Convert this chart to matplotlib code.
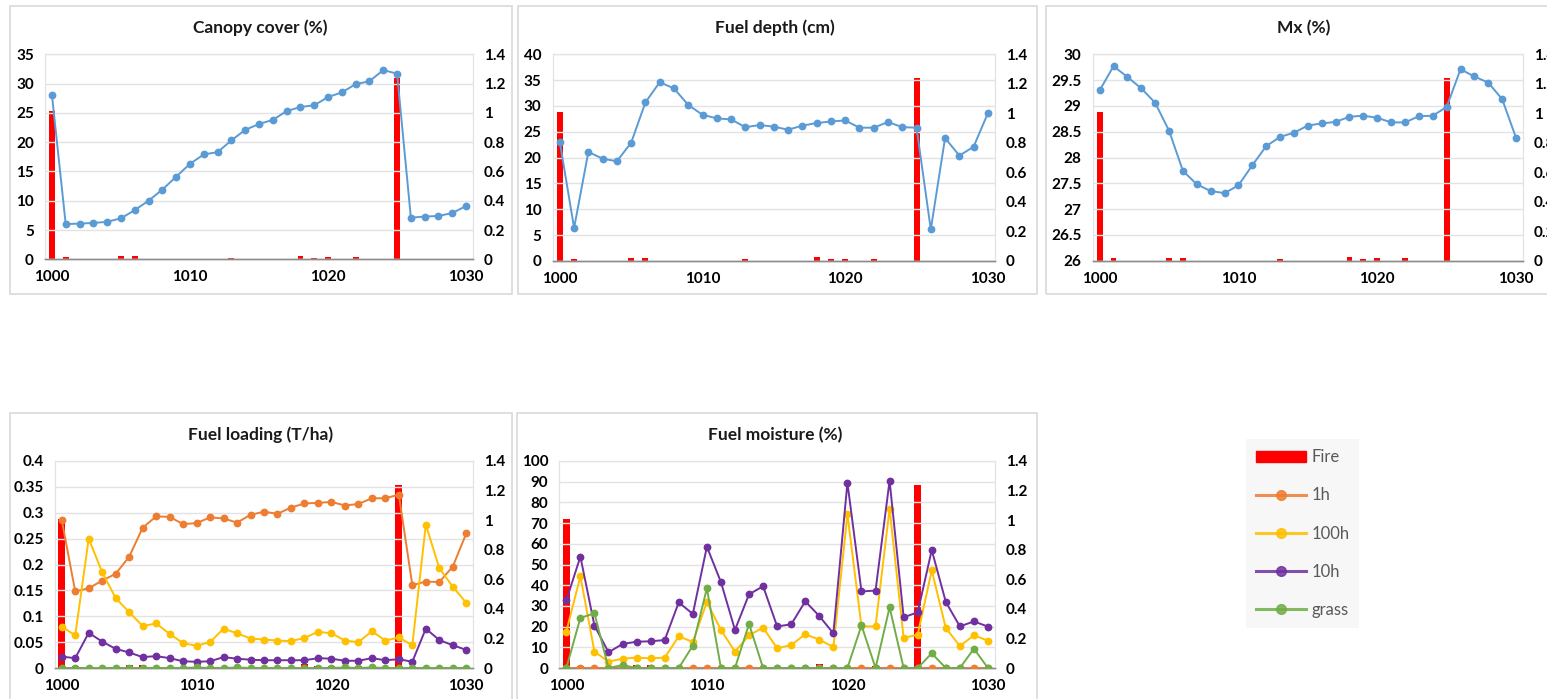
import numpy as np
import matplotlib
matplotlib.use("Agg")
from matplotlib import pyplot as plt
from matplotlib.patches import Rectangle, Patch
from matplotlib.lines import Line2D
from matplotlib.ticker import FuncFormatter, MultipleLocator

plt.rcParams["font.family"] = ["Lato", "DejaVu Sans"]

years = np.arange(1000, 1031)

fire = [1.01, 0.016, 0, 0, 0, 0.02, 0.02, 0, 0, 0, 0, 0, 0, 0.012, 0, 0, 0, 0,
        0.025, 0.012, 0.016, 0, 0.016, 0, 0, 1.24, 0, 0, 0, 0, 0]

canopy = [28.1, 6.0, 6.1, 6.2, 6.4, 7.0, 8.4, 10.0, 11.9, 14.1, 16.3, 17.9, 18.3,
          20.3, 22.1, 23.1, 23.8, 25.3, 26.0, 26.3, 27.7, 28.5, 29.9, 30.4, 32.3,
          31.7, 7.1, 7.3, 7.4, 7.9, 9.1]

depth = [23.0, 6.4, 21.1, 19.8, 19.3, 22.9, 30.7, 34.6, 33.4, 30.2, 28.3, 27.6,
         27.4, 25.9, 26.3, 26.0, 25.4, 26.2, 26.7, 27.0, 27.2, 25.8, 25.8, 26.9,
         25.9, 25.8, 6.1, 23.8, 20.4, 22.1, 28.6]

mx = [29.30, 29.77, 29.56, 29.34, 29.06, 28.52, 27.74, 27.48, 27.35, 27.31, 27.46,
      27.85, 28.22, 28.40, 28.48, 28.62, 28.66, 28.69, 28.79, 28.81, 28.77, 28.68,
      28.68, 28.80, 28.81, 28.98, 29.71, 29.57, 29.45, 29.13, 28.38]

load_1h = [0.286, 0.148, 0.154, 0.169, 0.182, 0.215, 0.271, 0.293, 0.292, 0.278,
           0.280, 0.291, 0.289, 0.281, 0.296, 0.302, 0.298, 0.310, 0.318, 0.319,
           0.321, 0.314, 0.317, 0.328, 0.328, 0.335, 0.160, 0.167, 0.166, 0.196, 0.260]
load_100h = [0.080, 0.063, 0.250, 0.185, 0.135, 0.108, 0.081, 0.086, 0.066, 0.048,
             0.043, 0.050, 0.076, 0.067, 0.057, 0.055, 0.053, 0.052, 0.058, 0.070,
             0.067, 0.053, 0.050, 0.071, 0.053, 0.059, 0.044, 0.277, 0.193, 0.157, 0.126]
load_10h = [0.022, 0.019, 0.068, 0.051, 0.037, 0.030, 0.021, 0.023, 0.019, 0.013,
            0.012, 0.013, 0.021, 0.018, 0.016, 0.015, 0.015, 0.015, 0.015, 0.019,
            0.018, 0.014, 0.014, 0.019, 0.015, 0.017, 0.012, 0.076, 0.054, 0.044, 0.035]
load_grass = [0, 0, 0, 0, 0, 0, 0, 0, 0, 0, 0.001, 0, 0, 0.001, 0, 0, 0, 0, 0, 0,
              0, 0.001, 0, 0.001, 0, 0, 0, 0, 0, 0, 0]

moist_1h = [0] * 31
moist_100h = [17.6, 44.3, 7.9, 3.1, 4.5, 5.0, 4.7, 5.0, 15.3, 12.6, 31.9, 18.4, 7.9,
              15.8, 19.5, 9.5, 11.1, 16.3, 13.7, 10.1, 74.2, 20.1, 20.1, 77.0, 14.5,
              16.1, 47.2, 19.3, 10.6, 15.8, 13.2]
moist_10h = [32.7, 53.8, 20.5, 7.6, 11.6, 12.7, 12.9, 13.5, 31.7, 26.1, 58.6, 41.5,
             18.4, 35.6, 39.5, 20.1, 21.1, 32.2, 25.1, 16.7, 89.5, 37.0, 37.4, 90.5,
             24.5, 26.9, 57.0, 31.9, 20.1, 22.5, 20.0]
moist_grass = [0, 24.2, 26.4, 0, 1.4, 0, 0, 0, 0, 10.8, 38.5, 0, 0, 21.3, 0, 0, 0, 0,
               0, 0, 0, 20.6, 0, 29.3, 0, 0, 7.1, 0, 0, 9.3, 0]

RED = "#FF0000"
BLUE = "#5B9BD5"
ORANGE = "#ED7D31"
YELLOW = "#FFC000"
PURPLE = "#7030A0"
GREEN = "#70AD47"

W, H = 1547, 699
fig = plt.figure(figsize=(W / 100, H / 100), dpi=100)
fig.patch.set_facecolor("white")

fmt = FuncFormatter(lambda v, p: "{:g}".format(round(v, 3)))


def px_axes(left, top, right, bottom):
    return fig.add_axes([left / W, 1 - bottom / H, (right - left) / W, (bottom - top) / H])


def panel(rect, title, tx, ty, ylim, ystep, series, barw):
    ax = px_axes(*rect)
    ax2 = ax.twinx()
    ax2.bar(years, fire, width=barw, color=RED, bottom=0, zorder=1)
    ax2.set_ylim(0, 1.4)
    ax2.yaxis.set_major_locator(MultipleLocator(0.2))
    ax2.yaxis.set_major_formatter(fmt)
    for vals, col in series:
        ax.plot(years, vals, "-o", color=col, lw=1.4, ms=4.6, zorder=3)
    ax.set_zorder(ax2.get_zorder() + 1)
    ax.patch.set_visible(False)
    ax.set_ylim(*ylim)
    ax.yaxis.set_major_locator(MultipleLocator(ystep))
    ax.yaxis.set_major_formatter(fmt)
    ax.set_xlim(999.5, 1030.5)
    ax.set_xticks([1000, 1010, 1020, 1030])
    ax.grid(axis="y", color="#e3e3e3", lw=1)
    ax.set_axisbelow(True)
    for a in (ax, ax2):
        for s in ("top", "left", "right"):
            a.spines[s].set_color("#e3e3e3")
        a.spines["bottom"].set_color("#8c8c8c")
        a.spines["bottom"].set_linewidth(1.0)
        a.tick_params(length=0, labelsize=11, pad=8)
        for lab in a.get_yticklabels() + a.get_xticklabels():
            lab.set_fontweight("bold")
    ax.tick_params(axis="x", pad=8)
    fig.text(tx / W, 1 - ty / H, title, ha="center", va="center",
             fontsize=12.5, fontweight="bold", color="#1a1a1a")
    return ax


# chart area borders
for (x0, y0, x1, y1) in [(9.5, 6, 511.5, 294), (518, 6, 1037, 294), (1046, 6, 1560, 294),
                         (9.5, 413, 511.5, 710), (517, 413, 1037, 710)]:
    fig.patches.append(Rectangle((x0 / W, 1 - y1 / H), (x1 - x0) / W, (y1 - y0) / H,
                                 transform=fig.transFigure, fill=False,
                                 edgecolor="#d9d9d9", lw=1.2))

panel((45, 54.3, 473, 259.3), "Canopy cover (%)", 260, 28, (0, 35), 5,
      [(canopy, BLUE)], 0.42)
panel((552.7, 54.3, 995, 261), "Fuel depth (cm)", 775, 28, (0, 40), 5,
      [(depth, BLUE)], 0.42)
panel((1092.7, 54.3, 1523, 260.7), "Mx (%)", 1304, 28, (26, 30), 0.5,
      [(mx, BLUE)], 0.42)
panel((55, 461, 473, 668), "Fuel loading (T/ha)", 261, 435, (0, 0.4), 0.05,
      [(load_1h, ORANGE), (load_100h, YELLOW), (load_10h, PURPLE), (load_grass, GREEN)], 0.52)
panel((559.3, 461, 995, 668), "Fuel moisture (%)", 775, 435, (0, 100), 10,
      [(moist_1h, ORANGE), (moist_100h, YELLOW), (moist_10h, PURPLE), (moist_grass, GREEN)], 0.48)

handles = [Patch(color=RED, label="Fire")]
for col, lab in [(ORANGE, "1h"), (YELLOW, "100h"), (PURPLE, "10h"), (GREEN, "grass")]:
    handles.append(Line2D([], [], color=col, lw=2.2, marker="o", ms=7, label=lab, alpha=0.85))
leg = fig.legend(handles=handles, loc="upper left", bbox_to_anchor=(1238 / W, 1 - 431 / H),
                 fontsize=12, frameon=True, facecolor="#f7f7f7", edgecolor="none",
                 framealpha=1, labelspacing=1.33, handlelength=3.0, handletextpad=0.3,
                 borderpad=0.6, fancybox=False)
for t in leg.get_texts():
    t.set_color("#595959")

fig.savefig("out.png", dpi=100)
